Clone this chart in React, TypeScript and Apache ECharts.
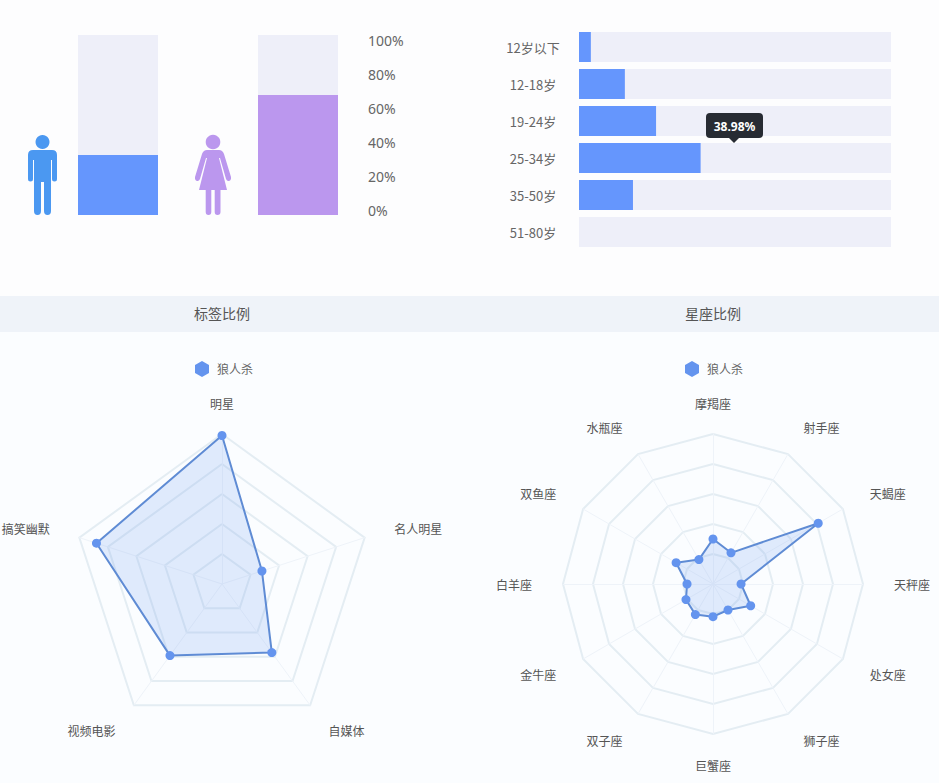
import React, { useEffect, useRef } from "react";
import * as echarts from "echarts";

const genderNames = ["男", "女"];
const genderValues = [33.3, 66.7];
const percentTicks = [0, 20, 40, 60, 80, 100];
const ageCategories = ["12岁以下", "12-18岁", "19-24岁", "25-34岁", "35-50岁", "51-80岁"];
const ageValues = [3.8, 14.7, 24.7, 38.98, 17.3, 0];
const tagNames = ["明星", "搞笑幽默", "视频电影", "自媒体", "名人明星"];
const tagValues = [99, 88, 59, 56.5, 28];
const starNames = ["摩羯座", "水瓶座", "双鱼座", "白羊座", "金牛座", "双子座", "巨蟹座", "狮子座", "处女座", "天秤座", "天蝎座", "射手座"];
const starValues = [30, 18.8, 28.4, 17.3, 20.8, 23.5, 21.8, 20, 29, 18.7, 81, 24];
const legendName = "狼人杀";
const panelTitles = ["标签比例", "星座比例"];

const FONT = '"Noto Sans CJK SC", "Noto Sans", sans-serif';
const TRACK = "#eeeff9";
const BLUE = "#6596fd";
const PURPLE = "#bb97ee";
const HEX = "path://M50 0L100 28L100 86L50 114L0 86L0 28Z";

const MALE =
  "M42.5 135a7 7 0 1 0 .01 0ZM33 150L52 150Q57 150 57 155L57 179Q57 181.5 54.5 181.5Q52 181.5 52 179L52 160L51 160L51 211Q51 215 47.5 215Q44 215 44 211L44 182L41 182L41 211Q41 215 37.5 215Q34 215 34 211L34 160L33 160L33 179Q33 181.5 30.5 181.5Q28 181.5 28 179L28 155Q28 150 33 150Z";
const FEMALE =
  "M213 134.7a7.3 7.3 0 1 0 .01 0ZM207 150L219 150Q222.5 150 224 154L231 177Q231.5 180 229 181Q227 181.5 226 179L220 158L219 158L227 190L220.5 190L220.5 212Q220.5 215 217.5 215Q214.7 215 214.7 212L214.7 190L211.3 190L211.3 212Q211.3 215 208.5 215Q205.7 215 205.7 212L205.7 190L199 190L207 158L206 158L200 179Q199 181.5 197 181Q194.5 180 195 177L202 154Q203.5 150 207 150Z";

echarts.graphic.registerShape("maleIcon", echarts.graphic.extendPath(MALE, {}));
echarts.graphic.registerShape("femaleIcon", echarts.graphic.extendPath(FEMALE, {}));

function radarSeries(radarIndex: number, values: number[]) {
  return {
    type: "radar",
    name: legendName,
    radarIndex,
    symbol: "circle",
    symbolSize: 9,
    itemStyle: { color: "#6494ee" },
    lineStyle: { color: "#5f8bd2", width: 2 },
    areaStyle: { color: "rgba(100,150,240,0.26)" },
    data: [{ value: values, name: legendName }],
  };
}

function radarBox(center: number, names: string[]) {
  return {
    center: [center, 584],
    radius: 150,
    startAngle: 90,
    splitNumber: 5,
    shape: "polygon",
    nameGap: 31,
    axisName: { color: "#555", fontSize: 12, fontFamily: FONT, verticalAlign: "middle", padding: [0, 0, 5, 0] },
    splitLine: { lineStyle: { color: "#e4edf3", width: 2 } },
    splitArea: { show: false },
    axisLine: { lineStyle: { color: "#eef3f9", width: 1 } },
    axisTick: { show: false },
    axisLabel: { show: false },
    indicator: names.map((name) => ({ name, min: 0, max: 100 })),
  };
}

function legendBox(left: number) {
  return {
    left,
    top: 356,
    icon: HEX,
    itemWidth: 14,
    itemHeight: 16,
    itemGap: 0,
    selectedMode: false,
    textStyle: { color: "#666", fontSize: 12, fontFamily: FONT, padding: [0, 0, 0, 3] },
    data: [legendName],
  };
}

export default function App() {
  const ref = useRef<HTMLDivElement>(null);
  useEffect(() => {
    document.body.style.margin = "0";
    document.body.style.background = "#fdfdfe";
    const chart = echarts.init(ref.current!, undefined, { renderer: "svg" });
    const peak = ageValues.indexOf(Math.max(...ageValues));
    chart.setOption({
      animation: false,
      backgroundColor: "#fdfdfe",
      textStyle: { fontFamily: FONT },
      grid: [
        { left: 28, top: 35, width: 360, height: 180 },
        { left: 340, top: 40, width: 20, height: 170 },
        { left: 579, top: 28.5, width: 312, height: 222 },
      ],
      xAxis: [
        { type: "category", gridIndex: 0, data: genderNames, show: false },
        { type: "value", gridIndex: 1, show: false },
        { type: "value", gridIndex: 2, min: 0, max: 100, show: false },
      ],
      yAxis: [
        { type: "value", gridIndex: 0, min: 0, max: 100, show: false },
        {
          type: "value",
          gridIndex: 1,
          min: percentTicks[0],
          max: percentTicks[percentTicks.length - 1],
          interval: 20,
          position: "right",
          axisLine: { show: false },
          axisTick: { show: false },
          splitLine: { show: false },
          axisLabel: { color: "#666", fontSize: 14, margin: 8, fontFamily: '"Noto Sans", sans-serif', formatter: "{value}%" },
        },
        {
          type: "category",
          gridIndex: 2,
          inverse: true,
          data: ageCategories,
          axisLine: { show: false },
          axisTick: { show: false },
          axisLabel: { color: "#666", fontSize: 13, margin: 46, align: "center", padding: [0, 0, 5, 0], fontFamily: FONT },
        },
      ],
      radar: [radarBox(222, tagNames), radarBox(713, starNames)],
      legend: [legendBox(190), legendBox(680)],
      series: [
        {
          type: "bar",
          xAxisIndex: 0,
          yAxisIndex: 0,
          barWidth: 80,
          showBackground: true,
          backgroundStyle: { color: TRACK },
          data: genderValues.map((value, i) => ({ value, itemStyle: { color: i === 0 ? BLUE : PURPLE } })),
        },
        {
          type: "bar",
          xAxisIndex: 2,
          yAxisIndex: 2,
          barWidth: 30,
          showBackground: true,
          backgroundStyle: { color: TRACK },
          itemStyle: { color: BLUE },
          data: ageValues,
        },
        radarSeries(0, tagValues),
        radarSeries(1, starValues),
      ],
      graphic: [
        { type: "rect", z: -10, silent: true, shape: { x: 0, y: 296, width: 939, height: 36 }, style: { fill: "#eff3f9" } },
        { type: "rect", z: -10, silent: true, shape: { x: 0, y: 332, width: 939, height: 451 }, style: { fill: "#fbfdff" } },
        { type: "text", x: 222, y: 313, style: { text: panelTitles[0], fill: "#555", font: `14px ${FONT}`, align: "center", verticalAlign: "middle" } },
        { type: "text", x: 713, y: 313, style: { text: panelTitles[1], fill: "#555", font: `14px ${FONT}`, align: "center", verticalAlign: "middle" } },
        { type: "maleIcon", x: 0, y: 0, style: { fill: "#4b98f1" } },
        { type: "femaleIcon", x: 0, y: 0, style: { fill: PURPLE } },
        { type: "rect", z: 100, shape: { x: 706, y: 113, width: 57, height: 25, r: 4 }, style: { fill: "#272b33" } },
        { type: "polygon", z: 100, shape: { points: [[729, 138], [739, 138], [734, 143]] }, style: { fill: "#272b33" } },
        { type: "text", z: 101, x: 734.5, y: 126, style: { text: `${ageValues[peak]}%`, fill: "#fff", font: `bold 12px "Noto Sans", sans-serif`, align: "center", verticalAlign: "middle" } },
      ],
    });
    return () => chart.dispose();
  }, []);
  return <div ref={ref} style={{ width: 939, height: 783 }} />;
}
